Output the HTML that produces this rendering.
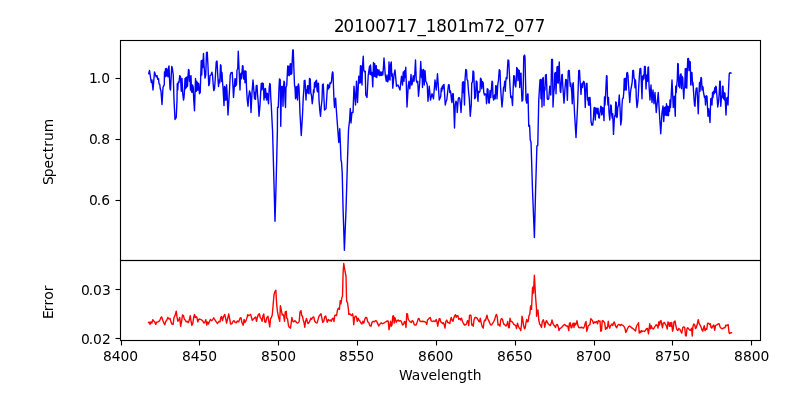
<!DOCTYPE html>
<html lang="en"><head><meta charset="utf-8"><title>20100717_1801m72_077</title>
<style>
html,body{margin:0;padding:0;background:#fff;overflow:hidden}
svg{display:block}
text{font-family:"DejaVu Sans","Liberation Sans",sans-serif;fill:#000}
.t{font-size:13.89px}
.h{font-size:16.67px}
</style></head>
<body>
<svg width="800" height="400" viewBox="0 0 800 400">
<rect width="800" height="400" fill="#fff"/>
<defs><clipPath id="c1"><rect x="120" y="40" width="640" height="220"/></clipPath><clipPath id="c2"><rect x="120" y="260" width="640" height="80"/></clipPath></defs>
<polyline clip-path="url(#c1)" points="148.75,73.75 149.5,70.5 151.25,82.5 152,80 153,90 154.5,72 155.5,75 156.25,76.88 157,75.62 157.75,79.38 158.5,78.5 159,83.75 159.75,84.38 160.25,88.75 161,91.25 162,104.5 163,87.5 163.75,85.62 164.25,85 164.5,71.88 165,76.88 165.5,68.75 166,76.25 166.5,68.5 167,75.62 167.5,70 168,76.88 168.5,67.5 169,66 169.5,78.75 170,88.75 170.5,90 171.25,75 171.75,66.5 172.25,67.5 172.75,71.25 173.25,75 174,100 175,119.5 176.25,117.5 177,100 177.25,83.75 177.75,90 178.25,81.88 179,82.5 179.75,75.62 180.5,76.88 181.25,91.25 182,78.5 182.75,93.75 183.5,100 184,97.5 184.5,90 185,78.5 185.5,88.75 186,77.5 186.5,87.5 187,76.88 187.5,86.25 188,76.25 188.5,69.5 189,70 189.5,81.25 190,76.25 190.5,90 191,75.62 191.5,91.25 192,92.5 192.5,85 193.25,87.5 193.75,100 194.5,110.75 195.5,78.5 196.25,91.25 196.75,81.25 197.25,90 197.75,82.75 198.25,90 198.75,83.75 199.5,93.75 200.25,92.5 200.75,75 201.25,60.62 201.75,75 202.25,60.25 202.75,67.5 203.5,53.5 204,65 205,78.12 205.75,75 206.5,52.5 207.25,52.25 208,66.25 208.75,85.62 209.5,83.75 210,75.62 211,75 211.88,72.25 212.5,75 213.25,85 213.75,90.62 214.5,88.75 215,82.5 216.25,61.88 217,61 217.75,75 218.5,86.5 219.25,80 219.75,82.75 220.5,64.75 221,65.62 221.5,81.25 222,72.5 222.5,81.88 223,87.5 224,105.5 224.5,86.5 225,100 225.5,87.5 226,100 226.5,84.75 227,91.25 228,115 229.5,90 230.25,75 231,72.75 232.25,72.5 232.75,82.5 233.5,97.5 234.25,87.5 235,78.75 235.5,86.25 236,79 236.5,85 237,70 237.75,68.75 238.25,51.25 240,90 240.5,75 241,73.12 241.5,78.75 242,72.5 242.5,65.62 243,66 243.5,77.5 244,79.38 244.5,71 245,82.75 245.5,71 246,71.25 246.5,87.5 247.25,100 248,106.25 248.75,96.25 249.5,91 250.25,93.12 251,112.5 252,92.5 253,80 253.75,88.75 254.5,98.75 255,92.5 255.5,99.38 256.25,85.62 257,85.25 257.5,93.75 258.25,102.5 259,116.25 260,105 260.75,91.25 261.25,83.5 261.75,90 262.25,83 262.75,88.75 263.25,83.5 263.75,92.5 264,100 264.5,89 265,97.5 265.5,88.5 266,93.75 266.5,100 267,93.12 267.5,93.75 268,100 268.5,103.75 269.25,87.5 269.75,83.5 270.25,84.38 270.75,97.5 271.25,105 272,120 272.5,130 272.55,130 273.9,180 275,221.3 276.2,180 277.4,130 277.5,107.5 278.25,107.5 279,87.5 279.5,79 280.25,80 280.75,126.25 281.5,86.5 282,86.25 282.5,87.5 283,106.25 283.5,87.5 284,81.25 284.5,82.5 285,100 285.5,107.5 286,87.5 286.75,85.38 287.25,75 287.75,66 288.25,75 288.75,66.25 289.25,75.62 289.75,68.75 290.25,63.75 290.75,74.38 291.25,64 291.75,73.75 292.25,60 292.75,50 293.25,50 293.75,65 294.5,85 295,87.5 295.5,98.75 296,86.88 296.5,97.5 297,86.5 297.5,100 298,86.25 298.5,84 299,87.5 299.5,100 300,113.75 301.25,135.5 302.5,115 303.25,97.5 303.75,91.25 304.25,80.62 305,80.25 305.5,90 306,100 306.5,90 307,92.5 307.5,85.62 308,93.12 308.5,86 309,93.75 309.5,78.5 310.25,79 310.75,92.5 311.5,95.62 312.25,103.75 313,97.5 313.5,90 314,92.5 314.5,82.75 315,87.5 315.5,81.25 316,86.25 316.5,80.25 317,90 317.5,91.88 318,83.12 318.5,83.5 319,100 319.75,110 320.5,116.25 321.25,106.25 322,100 322.5,84.75 323.25,84 323.75,93.75 324.5,110 326,108.75 326.75,97.5 327.5,85.25 328,84.38 328.5,89 329,85.62 329.5,87.5 330,82.75 330.75,83.5 331.5,81.25 332,75 332.5,71.88 333,72.75 333.5,87.5 334,100 334.5,107.5 335,100 335.62,98.12 336.25,108.75 338.75,142.5 339.75,128.75 341,160 341.5,162 342.2,172.5 343.1,210 344.4,250.3 346,210 347.5,160 348.5,130 349.6,120 350.25,108.5 351,123 351.9,112.5 353,112.5 354,86.25 355.5,105 356.5,81.25 357.5,102.5 358.75,76.25 359.75,83.12 360.5,65.62 361,82.5 361.5,66.25 362,85 362.5,66.25 363.25,56.25 363.75,70 364.5,71.88 365.25,71.25 365.75,95 367,97.5 368.25,75 369.5,66.25 370,74.38 370.5,65 371.25,75 372,72.5 372.75,86.88 373.5,62.5 374.25,76.25 374.75,63.75 375.5,76.88 376.25,65.62 376.75,77.5 377.5,69.38 378.25,75 379,70 379.75,75.62 380.5,71.88 381.25,75.62 382,71.88 382.75,75 383.25,70 384,58 385.25,75 386.25,81.25 387,75 387.75,81.88 388.5,78.75 389,61.88 389.5,78.75 390,80 390.5,65 391.25,61.88 391.75,76.25 392.25,73.75 392.75,88.12 394,75 395,70 396.5,86.25 398,85 400,90 401.5,76.25 402.5,85 403.25,71.88 404,81.25 404.5,70.62 405,77.5 405.75,67.25 406.25,82.5 407,107 408.25,85.62 409,81.25 409.75,88.75 410.5,82.5 411,74.38 411.75,85 412.5,82.5 413.25,75.62 414,81.25 414.75,74.38 415.5,60 416.25,80 417,82.5 417.75,81.25 418.5,96.25 419.75,82.5 420.75,61.5 421.5,77.5 422,70 422.5,87.5 423,71.25 423.5,69.38 424.25,85 425,70.62 425.75,81.25 426.5,82.5 427.25,85 428,101.25 429.25,86.25 430.5,100 432,93.75 433.5,98.75 435,80 436.25,90 437.5,73.75 439.25,100 440,98.12 440.75,96.25 441.25,88.12 441.75,91.25 442.25,86.25 442.75,88.75 443.25,85 444,84.5 444.5,92.5 445.25,105 446,101.5 446.75,100 447.75,91.25 448.5,84.75 449.25,85 449.75,92.5 450.25,90.62 450.75,92.5 451.5,100.25 452,102.5 452.5,94 453.25,93.75 453.75,105 454.5,128 455.25,105 456,101.25 456.75,103.12 457.25,112.5 458.25,98.75 459,97.5 459.75,98.5 460.5,105 461,112.5 462,96.25 462.5,82.25 463,92.5 463.5,81.75 464,92.5 464.5,105 465,80 465.75,69.5 466.5,70 467,79.5 467.75,80.62 468.5,91.25 469.25,98.12 470.25,116.25 471.25,105 471.75,83.12 472.5,81.88 473,71 473.75,71.88 474.25,86.25 474.75,98.75 475.5,97.5 476.25,81 477,81.88 477.5,96.25 478,101.25 478.5,91.25 479.25,92.5 480,91.25 480.5,78.12 481.25,79.38 481.75,88.75 482.5,81.5 483.25,83.12 483.75,92.5 484.5,95 485.25,93.75 486,95 486.5,103.75 487.25,88.75 488,89.38 488.5,102.5 489.25,103.12 490,90.62 490.75,97.5 491.25,91.25 492,81.25 492.5,81.88 493,97.5 493.75,100 494.5,95 495.25,98.75 495.75,85.62 496.5,86.25 497,98.75 497.75,85 498.5,80 499.25,69.75 500,70.62 500.5,86.25 501.25,97.5 502,107 502.75,98.75 503.5,87.5 504.25,86.25 504.75,81.25 505.25,91.25 505.75,81.88 506.25,77.5 507,78.75 507.5,67.5 508,60 508.75,60.62 509.25,71.25 510,86.25 510.75,97.5 511.5,96.25 512,100 512.5,105.5 513.25,86.25 513.75,75.62 514.5,76.25 515,85 515.75,86.88 516.25,80 516.75,67.5 517.5,68.75 518,80.62 518.5,70 519.25,70.62 519.75,87.5 520.25,73.75 521,73.12 521.5,90 522,101.25 522.75,100 523.25,86.25 523.75,56.25 524.5,55 525,57.5 525.5,80 526,100 526.75,103.12 527.5,94 528,94 528.75,126.25 529.6,125.5 530.25,140 531,142 531.2,147.5 532.5,190 534.4,237.5 535.6,190 536.9,146 537.75,145.6 537.9,140 538.75,100 540,80 540.5,79.38 541,98.75 541.5,80 542,107 542.5,78.75 543.25,77.5 543.75,92.5 544,105.5 544.5,87.5 545,90 545.5,75 546.25,74.5 546.75,86.25 547.25,98.75 548,99.5 548.75,98.75 549.25,92.5 549.75,86.25 550.25,87.25 550.75,95 551.25,80 551.62,59.5 552.5,59.5 553,107 553.75,92.5 554.25,88.75 554.75,73.12 555.25,83.75 555.5,72.5 556,93.75 556.5,80 557,66.88 557.5,82.5 557.75,66.5 558.25,83.12 558.75,72.5 559.25,62 559.75,80 560.25,91.25 560.75,92.5 561.25,83.75 561.75,75 562.25,74.38 562.75,85 563.25,92.5 564,103.12 564.5,96.25 565,88.12 565.75,79.38 566.5,80 567,92.5 567.38,100.25 567.75,87.5 568.25,71.25 568.75,70.25 569.25,70.5 569.75,80 570.25,86.25 570.75,83.12 571.25,87.75 571.75,92.5 572.25,103.75 572.75,84.38 573.25,82.75 573.75,96.25 574.5,112.5 576,137.5 577.5,107.5 578.25,86.25 578.75,70.62 579.5,70.25 580,80 580.5,86.25 581,94.38 581.5,86.25 582,83.5 582.5,87.5 583,82.5 583.75,81.25 584.25,82.5 584.75,92.5 585.25,107.5 585.75,92.5 586.25,83.5 587,83.5 587.5,100 588,98.12 588.5,105 589,97.5 589.5,105 590,97.5 590.5,105 591,121.25 591.75,125 592.75,125 593.5,117.5 594,108.12 594.75,107.5 595.25,120 596,108.12 596.75,108.75 597.25,113.75 598,108.12 598.75,117.5 599.25,118.12 600,112.5 600.75,106.25 601.25,106.88 601.75,115 602.25,113.75 602.75,107.5 603.5,112.5 604,120.62 604.5,96.88 605,105 605.5,96.25 606,86.25 606.5,75.62 607,76 607.5,98.12 608,105 608.5,97.5 609,112.5 609.75,120 610.25,112.5 610.75,105 611.25,105.62 611.75,115 612.25,118.12 612.75,113.75 613.5,134.38 614.25,120 614.75,115.62 615.25,116.25 615.75,101.88 616.25,102.5 616.75,117.5 617.25,116.88 617.75,107.5 618.5,105 619.25,95 620,107.5 620.75,125 621.5,120 622,105 622.5,98.75 623.25,98.12 623.75,92.5 624.25,78.75 624.75,90 625.25,78.12 625.75,89.38 626.25,90 626.75,73.12 627.5,72.5 628,75.62 628.5,85 629,91.25 629.75,102.5 630.5,92.5 631,88.75 631.75,85 632.25,81.25 632.75,70.62 633.5,70.25 634,78.12 634.5,79 635,87.75 635.5,80 636,87.5 636.25,97.5 637,107.5 637.75,102.5 638.25,96.25 638.75,86.25 639.5,73.75 640,68.75 640.75,68.5 641.25,80 642,98.75 642.5,76.25 643,80 643.5,75 644,78.75 644.5,66.5 645.25,66.5 645.75,80 646,89 646.5,80 647,75 647.5,81.25 648,67.5 648.5,67 649,85 649.5,92.5 650,100 651,85 652,102.5 653,90 654,103.75 655,92.5 656.25,112.5 657.25,102.5 658.25,92.5 659.5,115 660.75,133.75 662,112.5 663,106 663.75,121.5 664.5,107.5 665,115 665.5,106.88 666,115 666.5,103.75 667,115.62 667.5,106.25 668,115 668.5,115.62 669,106.25 669.5,111.25 670,100 670.5,107.5 671,99.38 672,80 673.25,107.5 674.25,96.25 675.25,116.25 675.75,86.25 676.25,92.5 676.75,85 677.25,80 677.75,63.5 678.25,64 678.75,86.25 679.25,77.5 679.75,87.75 680.25,75 681,73.75 681.5,88.75 682,76.25 682.75,77.75 683.25,90 683.75,98.75 684.25,88.75 684.75,87.5 685.25,68.75 685.75,87.5 686.25,68.5 686.75,88.12 687.25,71.25 687.75,58.75 688.5,58.5 689,70.62 689.5,61.25 690.25,62 690.75,85 691.25,72.5 692,72.75 692.5,85 693,82.5 693.75,95 694.5,105 695,106.25 695.75,92.5 696.25,88.12 697,88 697.5,97.5 698.25,113.75 699,92.5 699.5,82.5 700,91.25 700.5,81.88 701,77.5 701.5,78.25 702,90 702.5,86.25 703,87.25 703.5,92.5 704,95 704.5,97.5 705,96.5 705.5,105 706.25,95.62 707,96.5 707.5,107.5 708,116.25 708.75,108.75 710,122.5 710.75,98.75 711.5,98.25 712,105 712.5,92.5 713,97.5 713.5,91.25 714.25,93.75 714.75,87.75 715.25,92.5 715.75,86.25 716.25,87 716.75,93.75 717.25,100 717.75,107 718.5,102.5 719.25,92.5 719.75,81.25 720.25,81.25 720.75,106.25 721.5,96.25 722,97.5 722.5,86.25 723,86.25 723.5,98.75 724,92.5 724.5,100 725,93.12 725.5,105 726,115 726.75,98.12 727.5,97.5 728,105 728.5,90 729.25,73.75 730,72.75 731,73.12" fill="none" stroke="#0000ff" stroke-width="1.39" stroke-linejoin="round" stroke-linecap="square"/>
<polyline clip-path="url(#c2)" points="148.5,322.5 149.38,322.25 150,324.38 151,321.88 151.88,323.12 152.75,319.62 153.75,321 154.75,321.88 155.75,324.38 156.62,322.25 158.12,321.88 159.75,320.62 160.62,318.12 161.5,316.88 162.5,319.38 163.5,322.25 164.75,324.75 165.75,321.25 166.62,320.62 167.75,317.5 168.75,318.75 170,318.5 171,321.88 171.88,324 173.12,324.38 174,317.5 175,315.62 176.25,311.25 177,316.88 177.75,321.25 178.75,320 179.75,317.5 180.62,326.25 181.5,321.88 182.5,315 183.5,315.62 184.38,319.38 185.25,320 186.25,321.88 187.25,321.25 188.12,322.75 189.12,320.62 190.25,315.62 191,321.25 191.88,325.25 192.75,323.75 193.75,316.88 194.5,314.38 195.25,317.5 196,316.5 196.88,317.25 197.75,321.88 198.75,319.38 199.75,319 201.25,319.75 202.5,320.62 204,323.12 205,321.88 205.75,319.75 206.75,325 207.5,321.88 208.5,324 209.5,321.5 210.5,319.38 211.5,320.62 212.5,320 213.75,317.75 215,320 216.25,321.88 217.5,323.5 218.75,321.5 220,321.88 220.88,317.25 221.62,316.5 222.5,320.62 223.5,316.88 224.75,314.38 225.62,318.12 226.62,323.12 227.5,319.38 228.75,314 229.75,319.38 230.62,324 231.88,323.75 233.12,321.25 234,320.62 235,322.25 236.25,322.75 237.5,321 238.75,321.88 240,318.12 241,317.75 241.88,322.5 243.12,325.25 244.12,319.38 245,322.5 246,320.62 246.88,318.12 247.75,314.75 248.75,315.62 249.75,315 250.62,314.38 251.5,317.5 252.25,320.25 253.5,319 254.75,317.75 255.62,316.88 256.5,321.25 257.5,316.88 258.5,314.38 259.38,313.75 260.25,317.75 261.25,318.5 262.12,321.25 263,315.62 263.75,314 264.75,321.88 265.75,322.25 266.75,317.75 268,316.25 268.75,321.25 269.75,326.88 270.5,318.75 271.25,317.75 272.25,315 273.12,305 274,295 274.75,291.88 275.88,290.25 276.62,303.75 277.5,311.88 278.5,316.88 279.75,321.25 280.38,305.62 281.25,310 282.25,315 283.12,314.38 283.75,316.25 284.5,321.25 285.25,311.88 286.25,311.25 286.75,318.12 287.5,318.75 288.5,325.62 289.38,327.5 290.5,328.12 291.25,322.5 291.88,317.5 292.75,321.25 293.75,321.88 294.75,320.62 295.62,321.25 296.5,322.5 297.5,323.12 298.5,322.5 299.25,321.25 300,311.88 301,310.62 301.75,315.62 302.5,316.25 303.25,320 304,322.5 304.75,327.25 305.62,321.25 306.5,318.5 307.25,321.25 308,323.5 309,322.5 310,320.62 310.75,318.12 311.5,319.38 312.5,317.5 313.75,316.88 314.75,321.25 315.75,322.5 317,323.12 318.12,319.38 319,316.25 320,315 321,313.75 321.88,318.12 322.75,322.25 323.75,321.25 324.75,316.88 325.75,316 326.5,319.38 327.25,322.25 328.25,319.38 329.25,320.62 330.25,320 331.25,321.25 332.25,318.75 333.12,318.12 334,321.5 334.75,315.62 335.62,315 336.5,315.62 337.5,310 338.5,308.12 339.38,309.38 340.25,300.62 341,303.75 341.88,297.5 342.5,296.25 343.12,272.5 343.75,263.5 345,271.25 346,276.25 346.62,301.25 347.5,302.5 348.5,310 348.75,314.38 349.75,313.75 350.62,314.75 351.5,315.62 352.5,313.75 353.12,316.25 353.75,324.75 354.5,317.5 355.5,316.25 356.25,316.5 357.25,321.25 358.12,318.12 359,320 360,321.25 361,323.12 361.88,324 362.88,321.25 363.75,323.12 364.75,319.38 365.62,317.5 366.75,317.75 367.75,321.88 368.75,322.5 369.75,325.62 371,326.25 372,322.25 373.12,321.25 374.38,321.88 375.38,320.62 376.5,321 377.5,323.12 378.75,326 380,324 381.25,322.75 382.5,323.75 383.75,323.12 385,322.25 386.25,321.5 387.5,321 388.25,321.25 389,329.75 389.75,325.62 390.62,321.25 391.25,326.25 392,325 392.75,316.25 393.5,315.62 394.12,323.12 394.75,317.5 395.5,319.38 396.25,322.25 397.25,320.62 398.25,320 399.25,321.25 400.25,320.62 401.25,321.25 402.5,325 403.5,324.38 404.5,321.5 405.25,321.88 406,327.5 406.75,313.75 407.5,314 408.25,319.38 409.25,320.62 410.25,321.88 411.25,322.5 412.25,320.62 413.25,321.5 414.25,324.75 415.25,325 416.25,324.75 417.25,321.88 418.25,318.75 419,318.5 420,321.25 421.25,321.5 422.5,321.25 423.75,321.5 425,321.88 426,322.5 426.75,324.38 427.5,320 428.25,319.38 429.25,318.12 430.25,317.5 431.25,321 432.25,321.5 433.25,321 434.25,321.25 435.25,321.5 436.25,319.38 437,321.88 437.75,326.25 438.5,321.88 439.25,318.75 440,318.75 440.62,321.88 441.5,322.25 442.5,323.5 443.5,322.75 444.25,325 445,328.12 445.75,321.88 446.75,320 447.75,322.5 448.75,322.75 449.75,323.5 450.5,320 451.25,317.5 452.25,320.62 453,321.25 453.75,318.12 454.75,315.62 455.5,314.75 456.25,317.25 457,315.62 458,316 458.75,319.38 459.75,318.5 460.75,320 461.5,318.12 462.5,321.5 463.5,323.5 464.5,325 465.5,324.75 466.5,324 467.5,320.62 468.25,321.25 468.75,325.62 469.5,315.62 470.25,315 471,315.62 471.75,325 472.5,324.38 473.25,326.25 474,320 474.75,317.75 475.75,317.5 476.75,317.75 477.75,319.38 478.75,321.25 479.5,321.88 480.25,318.12 481.25,323.12 482.25,326.88 483.25,328.12 484,321.88 484.75,320 485.5,320.62 486.25,317.5 487,315.25 487.75,318.75 488.75,320.62 489.75,323.12 490.75,325 491.75,324.75 492.75,323.12 493.75,321.5 494.75,319.38 495.75,315.62 496.5,314.38 497.25,316.88 498,325 499,324.38 500,326.25 500.75,320 501.5,318.5 502.5,319.38 503.25,322.5 504,324.38 505,325 506,326 507,324.38 507.75,321.5 508.5,327.5 509.25,327.75 510,318.12 510.75,321.25 511.75,321.5 512.75,322.5 513.75,324.38 514.75,325 515.75,325.62 516.5,328.5 517.5,323.12 518.25,325.62 519,327.75 520,328.75 520.75,330.62 521.5,324.38 522,316.25 522.75,319.38 523.5,325 524.5,328.75 525.25,327.75 526,322.5 526.75,319.38 527.5,321.88 528.25,321.25 529,315.62 529.75,314.38 530.5,306.88 531,305.62 531.5,309.38 532.5,288.12 533.12,286.88 533.5,293.12 534.38,275.25 535.62,297.5 536.5,308.75 536.55,316.25 537.25,311.25 538,310 538.75,320 539.75,324.38 540,324.38 540.75,325.62 541.5,327.5 542.25,321.88 543.25,319.75 544,321.88 544.75,327.25 545.5,323.12 546.5,320.62 547.25,321.88 548.25,324 549.25,324.75 550.25,325.62 551.25,323.12 552,320 552.75,323.12 553.75,325 554.75,326.25 555.5,327.5 556.25,325 557.25,324.38 558.25,326.88 559,330.62 559.75,328.5 560.75,328.12 561.75,327.25 562.75,326 563.75,325 564.75,324.38 565.75,325.62 566.75,326.25 567.75,326 568.75,330.62 569.5,323.12 570.25,322.75 571,327.5 571.75,327.75 572.5,324.38 573.25,323.12 574,327.5 574.75,323.12 575.5,325 576.25,323.75 577,320.62 577.75,325 578.75,327.5 580,327.75 581.25,327.25 582.5,327.75 583.5,328.12 584.5,326.25 585.25,323.12 586,321.5 586.75,331.25 587.5,328.75 588.25,325.62 589.25,325 590,324.38 590.75,318.75 591.5,319.38 592.5,320.62 593.5,323.5 594.5,321.88 595.5,322.5 596.5,321.5 597.5,323.75 598.25,320.62 599.25,321.25 600,321 600.75,331.25 601.5,330.62 602.25,320.62 603.25,321 604,321.88 604.75,323.12 605.5,329.38 606.25,327.75 607,328.5 607.75,325.62 608.25,321.25 609,326.25 609.75,328.12 610.5,325.62 611.25,325 612,324 612.75,325.62 613.5,323.12 614.25,321.88 615,324.38 616,326.88 616.75,327.75 617.5,325.62 618.5,324.38 619.5,324.75 620.5,325.62 621.25,324.38 622.25,325 623.25,325.62 624.25,326.88 625,328.5 625.75,332.25 626.5,331.25 627.5,328.5 628.5,326.88 629.5,326 630.5,326.5 631.5,327.75 632.5,328.12 633.5,329 634.5,330 635.5,331 636.25,327.25 637,325.25 637.75,324.38 638.5,322.75 639.25,333.12 640,331.25 640.75,332.5 641.5,330.62 642.5,331.5 643.5,331 644.5,331.5 645.5,330.25 646.5,328.75 647.5,328.5 648.5,333.75 649.25,327.75 649.75,323.75 650.5,328.75 651.25,325.62 652.25,328.5 653.25,329 654.25,327.75 655.25,326 656.25,324.75 657.25,325.62 658,328.12 658.75,321.88 659.5,325 660.25,321 661,320.62 661.75,324.38 662.5,327.75 663.25,323.12 664.25,322.5 665.25,324 666.25,325.62 667.25,329 668,321.88 668.75,322.75 669.5,326.25 670.25,322.75 671,326.25 671.75,322.5 672.5,331.25 673.25,328.75 674,321.88 675,321 675.75,325 676.75,329.38 677.75,330.62 678.75,328.5 679.75,329 680.75,331.25 681.75,333.12 682.75,327.5 683.75,326.88 684.75,327.75 685.5,335.62 686.25,336 687,328.5 687.75,327.75 688.75,329 689.75,330 690.75,330.25 691.5,328.12 692.25,336 693,326.25 693.75,324 694.75,325 695.5,328.5 696.25,327.75 697.25,324 698.25,319.75 699,323.12 700,325 701,326.88 702,330 702.75,331.25 703.5,328.12 704.25,325.62 705,330.62 706,328.75 706.75,329.38 707.5,323.5 708.5,323.12 709.5,324.38 710.25,323.75 711,327.25 711.75,328.12 712.75,326.25 713.75,325 714.75,330.25 715.5,325.62 716.5,325 717.5,324.38 718.5,323.75 719.25,324 720,326.88 721,328.12 722,328.75 723,328.5 724,327.75 725,327.75 725.75,325.25 726.75,325.62 727.5,325 728.25,324.75 729,332.5 729.75,333.5 730.75,332.75 731.5,332.75" fill="none" stroke="#ff0000" stroke-width="1.39" stroke-linejoin="round" stroke-linecap="square"/>
<g stroke="#000" stroke-width="1.11" fill="none">
<line x1="121.5" y1="340.5" x2="121.5" y2="345.50"/>
<line x1="199.5" y1="340.5" x2="199.5" y2="345.50"/>
<line x1="278.5" y1="340.5" x2="278.5" y2="345.50"/>
<line x1="357.5" y1="340.5" x2="357.5" y2="345.50"/>
<line x1="436.5" y1="340.5" x2="436.5" y2="345.50"/>
<line x1="515.5" y1="340.5" x2="515.5" y2="345.50"/>
<line x1="594.5" y1="340.5" x2="594.5" y2="345.50"/>
<line x1="672.5" y1="340.5" x2="672.5" y2="345.50"/>
<line x1="751.5" y1="340.5" x2="751.5" y2="345.50"/>
<line x1="120.5" y1="200.5" x2="115.50" y2="200.5"/>
<line x1="120.5" y1="139.5" x2="115.50" y2="139.5"/>
<line x1="120.5" y1="78.5" x2="115.50" y2="78.5"/>
<line x1="120.5" y1="338.5" x2="115.50" y2="338.5"/>
<line x1="120.5" y1="289.5" x2="115.50" y2="289.5"/>
</g>
<g stroke="#000" stroke-width="1.11" fill="none" stroke-linecap="square">
<rect x="120.5" y="40.5" width="640" height="220"/>
<rect x="120.5" y="260.5" width="640" height="80"/>
</g>
<text class="h" transform="translate(0,31.5) scale(1,1.06)" x="333.98 343.57 354.16 364.76 375.35 385.71 396.3 406.65 417.49 425.82 436.16 446.77 457.62 467.96 484.2 494.79 505.13 513.71 524.3 534.65" y="0">20100717_1801m72_077</text>
<text class="t" transform="translate(0,361)" x="103.05 111.87 120.44 129.27" y="0">8400</text>
<text class="t" transform="translate(0,361)" x="181.89 190.71 199.53 208.36" y="0">8450</text>
<text class="t" transform="translate(0,361)" x="260.97 270.04 278.61 287.19" y="0">8500</text>
<text class="t" transform="translate(0,361)" x="339.06 347.88 356.45 365.28" y="0">8550</text>
<text class="t" transform="translate(0,361)" x="417.9 426.97 435.79 444.62" y="0">8600</text>
<text class="t" transform="translate(0,361)" x="496.99 506.06 514.63 523.46" y="0">8650</text>
<text class="t" transform="translate(0,361)" x="576.07 584.64 593.46 602.29" y="0">8700</text>
<text class="t" transform="translate(0,361)" x="654.91 663.73 672.55 681.13" y="0">8750</text>
<text class="t" transform="translate(0,361)" x="734 743.07 751.64 760.47" y="0">8800</text>
<text class="t" transform="translate(0,205.14)" x="88.97 96.78 101.21" y="0">0.6</text>
<text class="t" transform="translate(0,144.16)" x="88.97 96.78 101.21" y="0">0.8</text>
<text class="t" transform="translate(0,83.19)" x="88.97 96.78 101.21" y="0">1.0</text>
<text class="t" transform="translate(0,343.5)" x="80.89 88.71 92.88 101.96" y="0">0.02</text>
<text class="t" transform="translate(0,294.72)" x="80.89 88.71 92.88 101.96" y="0">0.03</text>
<text class="t" transform="translate(0,380.2)" x="399.09 411.67 420.42 428.62 436.92 441.02 449.56 458.36 467.16 472.84" y="0">Wavelength</text>
<text class="t" transform="translate(52.6,152) rotate(-90)" x="-33.12 -25.32 -16.51 -7.98 -0.35 5.35 11.05 19.84" y="0">Spectrum</text>
<text class="t" transform="translate(52.6,302) rotate(-90)" x="-16.91 -9.15 -3.45 2.21 10.7" y="0">Error</text>
</svg>
</body></html>
